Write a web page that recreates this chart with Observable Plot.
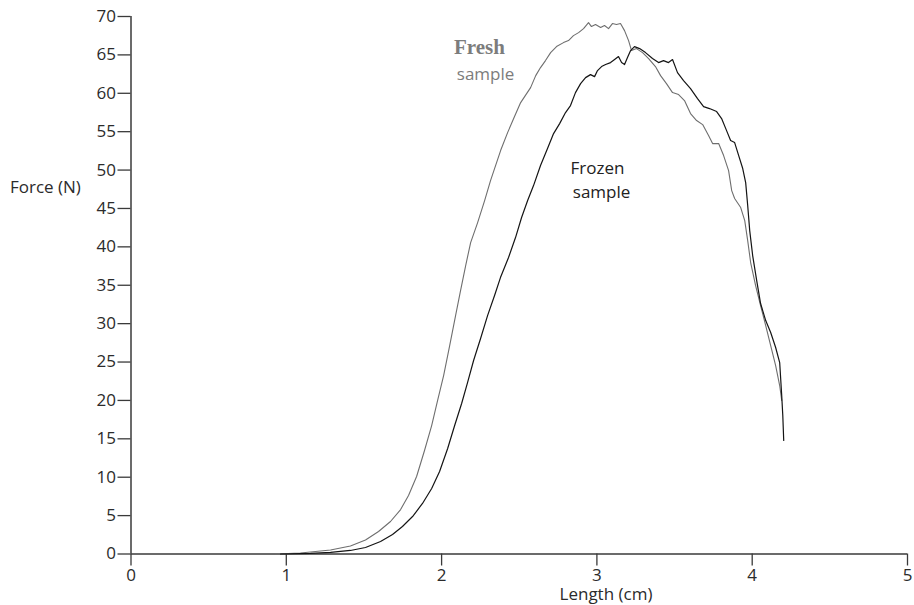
<!DOCTYPE html>
<html>
<head>
<meta charset="utf-8">
<script src="https://cdn.jsdelivr.net/npm/d3@7"></script>
<script src="https://cdn.jsdelivr.net/npm/@observablehq/plot@0.6"></script>
<style>
  html, body { margin: 0; padding: 0; background: #fff; }
  #chart { width: 914px; height: 605px; }
</style>
</head>
<body>
<div id="chart"></div>
<script>
// Tick labels
const xTicks = [0, 1, 2, 3, 4, 5];
const yTicks = [0, 5, 10, 15, 20, 25, 30, 35, 40, 45, 50, 55, 60, 65, 70];

// Fresh sample: length (cm) and force (N)
const freshX = [0.930,1.091,1.285,1.413,1.510,1.594,1.671,1.736,1.787,1.839,1.890,1.936,1.974,2.013,2.052,2.090,2.122,2.155,2.187,2.232,2.277,2.315,2.380,2.425,2.464,2.509,2.573,2.606,2.637,2.669,2.702,2.740,2.785,2.817,2.849,2.882,2.914,2.946,2.965,2.991,3.024,3.049,3.075,3.100,3.126,3.152,3.178,3.204,3.223,3.255,3.294,3.333,3.377,3.410,3.448,3.487,3.526,3.564,3.603,3.642,3.681,3.719,3.745,3.784,3.816,3.848,3.868,3.887,3.926,3.952,3.971,3.990,4.022,4.054,4.087,4.119,4.151,4.177,4.190];
const freshY = [0,0.13,0.52,1.04,1.82,2.93,4.23,5.79,7.62,10.09,13.48,16.73,19.99,23.24,27.15,31.05,34.31,37.57,40.56,43.16,46.03,48.63,52.54,54.88,56.71,58.79,60.74,62.30,63.35,64.26,65.30,66.08,66.60,66.86,67.51,67.90,68.42,69.21,68.69,68.95,68.56,68.82,68.42,69.08,68.95,69.08,68.16,66.86,65.56,65.82,65.30,64.52,63.48,62.30,61.26,60.09,59.83,59.05,57.36,56.45,55.92,54.49,53.45,53.45,51.89,49.93,47.33,46.29,45.12,43.42,40.82,37.96,34.96,32.36,29.75,27.15,24.54,21.94,19.99];

// Frozen sample: length (cm) and force (N)
const frozenX = [0.963,1.156,1.285,1.413,1.510,1.607,1.684,1.748,1.813,1.877,1.936,1.987,2.039,2.084,2.129,2.167,2.206,2.251,2.296,2.341,2.379,2.431,2.476,2.515,2.554,2.592,2.637,2.682,2.721,2.760,2.798,2.830,2.862,2.895,2.927,2.959,2.985,3.004,3.030,3.056,3.088,3.114,3.139,3.159,3.178,3.197,3.217,3.242,3.275,3.313,3.358,3.397,3.429,3.461,3.487,3.519,3.558,3.603,3.648,3.687,3.725,3.771,3.803,3.835,3.861,3.887,3.913,3.939,3.958,3.971,3.984,4.003,4.029,4.054,4.087,4.119,4.151,4.177,4.190,4.197,4.203];
const frozenY = [0,0.07,0.2,0.46,0.85,1.63,2.54,3.58,4.88,6.58,8.53,10.74,13.74,16.73,19.60,22.33,25.20,28.06,31.05,33.66,36.00,38.61,41.21,43.82,46.03,47.98,50.59,52.80,54.75,56.05,57.49,58.40,60.09,61.26,62.04,62.43,62.17,62.96,63.48,63.74,64.00,64.39,64.78,64.00,63.74,64.65,65.56,66.08,65.82,65.30,64.52,64.00,64.26,64.00,64.39,62.69,61.65,60.61,59.31,58.27,58.01,57.62,56.71,55.14,53.84,53.58,51.89,50.20,48.37,45.38,42.12,38.87,35.61,32.62,30.40,28.84,26.89,24.93,20.64,18.03,14.78];

// Annotations
const annoText = ["Fresh", "sample", "Frozen", "sample"];
const annoX = [2.244, 2.283, 3.004, 3.030];
const annoY = [65.95, 62.4, 50.2, 47.07];

const fresh = freshX.map((x, i) => ({x, y: freshY[i]}));
const frozen = frozenX.map((x, i) => ({x, y: frozenY[i]}));
const annos = annoText.map((t, i) => ({t, x: annoX[i], y: annoY[i], i}));

const axisColor = "#3a3a3a";

const chart = Plot.plot({
  width: 914,
  height: 605,
  marginLeft: 130.5,
  marginRight: 7,
  marginTop: 16,
  marginBottom: 51.5,
  style: { fontFamily: "'Open Sans', sans-serif", fontSize: "17px", color: "#2b2b2b", background: "#fff" },
  x: { domain: [0, 5], label: null },
  y: { domain: [0, 70], label: null },
  marks: [
    Plot.axisX({ ticks: xTicks, tickSize: 12, tickPadding: 3, tickFormat: d => String(d), stroke: axisColor, strokeWidth: 1.3, fontSize: 17 }),
    Plot.axisY({ ticks: yTicks, tickSize: 13, tickPadding: 2, tickFormat: d => String(d), stroke: axisColor, strokeWidth: 1.3, fontSize: 17 }),
    Plot.ruleY([0], { stroke: axisColor, strokeWidth: 1.5 }),
    Plot.ruleX([0], { stroke: axisColor, strokeWidth: 1.5 }),
    Plot.line(fresh, { x: "x", y: "y", stroke: "#6e6e6e", strokeWidth: 1.1 }),
    Plot.line(frozen, { x: "x", y: "y", stroke: "#141414", strokeWidth: 1.2 }),
    Plot.text(annos.filter(d => d.i === 0), { x: "x", y: "y", text: "t", fill: "#7c7c7c", fontFamily: "'Liberation Serif', serif", fontWeight: "bold", fontSize: 21 }),
    Plot.text(annos.filter(d => d.i === 1), { x: "x", y: "y", text: "t", fill: "#7c7c7c", fontSize: 17 }),
    Plot.text(annos.filter(d => d.i >= 2), { x: "x", y: "y", text: "t", fill: "#222", fontSize: 17 })
  ]
});

const svg = d3.select(chart);
svg.append("text")
  .attr("x", 10).attr("y", 193)
  .attr("text-anchor", "start")
  .attr("fill", "#2b2b2b")
  .attr("font-size", 17)
  .text("Force (N)");
svg.append("text")
  .attr("x", 606).attr("y", 600)
  .attr("text-anchor", "middle")
  .attr("fill", "#2b2b2b")
  .attr("font-size", 17)
  .text("Length (cm)");

document.getElementById("chart").appendChild(chart);
</script>
</body>
</html>
